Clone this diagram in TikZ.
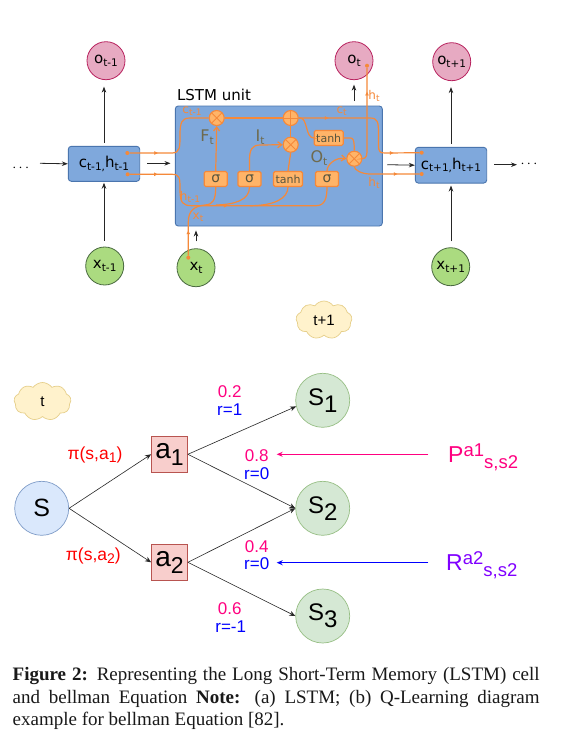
\documentclass[tikz,border=0pt]{standalone}
\usepackage{fontspec}
\usetikzlibrary{arrows.meta,shapes.geometric,shapes.symbols,decorations.markings,calc}
\setmainfont{Liberation Serif}
\newfontfamily\dvf{DejaVu Sans}
\newfontfamily\lsf{Liberation Sans}
\newcommand\lw[3]{\raisebox{#2}{\fontsize{#1}{#1}\selectfont #3}}
\newcommand\tsb[1]{\lw{10.5pt}{-2.5pt}{#1}}
\newcommand\ssb[1]{\lw{9pt}{-2pt}{#1}}
\definecolor{ora}{HTML}{F5893A}
\definecolor{orafill}{HTML}{FFB468}
\definecolor{boxblue}{HTML}{7FA8DC}
\definecolor{boxline}{HTML}{4A75AE}
\definecolor{lblgray}{HTML}{6E6A4E}
\definecolor{pinky}{HTML}{FF0080}
\definecolor{bluey}{HTML}{0000FF}
\definecolor{purp}{HTML}{8000FF}
\definecolor{opink}{HTML}{E7AAC2}
\definecolor{opinkl}{HTML}{B8235F}
\definecolor{xgreen}{HTML}{ABDB80}
\definecolor{xgreenl}{HTML}{4A6A40}
\definecolor{cloudf}{HTML}{FFF2CC}
\definecolor{cloudl}{HTML}{E6CF8A}
\definecolor{stf}{HTML}{D5E8D4}
\definecolor{stl}{HTML}{97BF85}
\definecolor{sf}{HTML}{DAE8FC}
\definecolor{sl}{HTML}{7F9CC8}
\definecolor{af}{HTML}{F8CECC}
\definecolor{al}{HTML}{B85450}
\tikzset{
  blk/.style={draw=black!85,line width=.8pt,-{Stealth[length=6pt,width=4.5pt]}},
  thinblk/.style={draw=black!85,line width=.6pt,-{Stealth[length=6pt,width=5pt]}},
  orl/.style={draw=ora,line width=1.2pt},
  orarr/.style={draw=ora,line width=1.2pt,-{Straight Barb[length=4pt,width=6pt]}},
  otip/.style={postaction={decorate,decoration={markings,mark=at position #1 with {\arrow[ora]{Latex[length=4pt,width=4pt]}}}}},
  odot/.style={circle,fill=ora,inner sep=0pt,minimum size=4pt},
  outn/.style={circle,line width=.8pt,minimum size=38pt,inner sep=0pt,font=\dvf\fontsize{15}{15}\selectfont},
  pinkn/.style={outn,draw=opinkl,fill=opink},
  greenn/.style={outn,draw=xgreenl,fill=xgreen},
  cellb/.style={rectangle,rounded corners=3pt,draw=boxline,fill=boxblue,line width=.9pt,font=\dvf\fontsize{15}{15}\selectfont,inner sep=0pt},
  opb/.style={rectangle,rounded corners=1.5pt,draw=ora,fill=orafill,line width=1.1pt,inner sep=0pt,minimum height=15pt,minimum width=23pt,text=lblgray!80!black,font=\dvf\fontsize{11}{11}\selectfont},
  sigb/.style={opb,font=\dvf\fontsize{14}{14}\selectfont},
  xop/.style={circle,draw=ora,fill=orafill,line width=1.1pt,minimum size=15pt,inner sep=0pt,
    path picture={\draw[ora,line width=.9pt]
      (path picture bounding box.south west)--(path picture bounding box.north east)
      (path picture bounding box.north west)--(path picture bounding box.south east);}},
  pop/.style={circle,draw=ora,fill=orafill,line width=1.1pt,minimum size=15pt,inner sep=0pt,
    path picture={\draw[ora,line width=.9pt]
      (path picture bounding box.south)--(path picture bounding box.north)
      (path picture bounding box.west)--(path picture bounding box.east);}},
  lblo/.style={text=ora,font=\dvf\fontsize{12}{12}\selectfont,inner sep=0pt},
  lblg/.style={text=lblgray,font=\dvf\fontsize{16}{16}\selectfont,inner sep=0pt},
  cloudn/.style={cloud,cloud puffs=9,cloud puff arc=110,aspect=1.45,draw=cloudl,fill=cloudf,line width=.7pt,inner sep=0pt,font=\lsf\fontsize{15}{15}\selectfont},
  stateg/.style={circle,draw=stl,fill=stf,line width=.7pt,minimum size=54pt,inner sep=0pt,font=\lsf\fontsize{24}{24}\selectfont},
  actb/.style={rectangle,draw=al,fill=af,line width=.8pt,minimum size=36pt,inner sep=0pt,font=\lsf\fontsize{28}{28}\selectfont},
  pil/.style={text=red,font=\lsf\fontsize{17.5}{17.5}\selectfont,inner sep=0pt},
  prb/.style={text=pinky,font=\lsf\fontsize{17}{17}\selectfont,inner sep=0pt},
  rwd/.style={text=bluey,font=\lsf\fontsize{17}{17}\selectfont,inner sep=0pt},
  pl/.style={font=\lsf\fontsize{23}{23}\selectfont,inner sep=0pt},
  dots/.style={inner sep=0pt,font=\dvf\fontsize{14}{14}\selectfont}
}
\begin{document}
\begin{tikzpicture}[x=1pt,y=-1pt]
\useasboundingbox[fill=white] (0,0) rectangle (577,737);
% ---------- top row
\node[cellb,minimum width=207pt,minimum height=120pt] (lstm) at (278.8,166) {};
\node[font=\dvf\fontsize{15}{15}\selectfont,inner sep=0pt] (ltitle) at (214,95) {LSTM unit};
\node[cellb,minimum width=71.4pt,minimum height=35pt] (prev) at (104,163.8) {c\tsb{t-1,}h\tsb{t-1}};
\node[cellb,minimum width=71.4pt,minimum height=35.7pt] (next) at (451,165.2) {c\tsb{t+1,}h\tsb{t+1}};
\node[pinkn] (oprev) at (106,60.7) {o\tsb{t-1}};
\node[pinkn] (ot) at (354,60.7) {o\tsb{t}};
\node[pinkn] (onext) at (451.7,61.7) {o\tsb{t+1}};
\node[greenn] (xprev) at (104.7,266) {x\tsb{t-1}};
\node[greenn] (xt) at (196,267.7) {x\tsb{t}};
\node[greenn] (xnext) at (450.7,266.7) {x\tsb{t+1}};
\node[dots] (dl) at (20.7,168) {$\cdots$};
\node[dots] (dr) at (529,164) {$\cdots$};
\coordinate (inl) at (40,163.3);
% operators
\node[xop] (fx) at (216.7,118) {};
\node[pop] (plus) at (290.7,118) {};
\node[xop] (ix) at (290.7,144.7) {};
\node[xop] (ox) at (354.3,158.7) {};
\node[sigb] (s1) at (215.7,179) {σ};
\node[sigb] (s2) at (249.5,179) {σ};
\node[opb,minimum width=29pt] (t1) at (288,179) {tanh};
\node[sigb] (s3) at (327,179) {σ};
\node[opb,minimum width=29pt] (t2) at (328.7,138) {tanh};
% dots
\node[odot] (dc1) at (127.3,153) {};
\node[odot] (dh1) at (127.7,174.3) {};
\node[odot] (dc2) at (421.7,152.7) {};
\node[odot] (dh2) at (421.7,174) {};
\node[odot] (dxt) at (188.3,257.7) {};
\node[odot] (dot) at (367,65.7) {};
% black arrows
\draw[blk] (inl) -- (prev.west);
\draw[blk] (prev.east) ++(7,-.5) coordinate (a1s) -- (170.5,163.3) coordinate (a1e);
\draw[blk] (lstm.east) ++(4.5,-1.3) coordinate (a2s) -- (next.west);
\draw[blk] (next.east) ++(7,-.5) coordinate (a3s) -- (517,164.7) coordinate (a3e);
\draw[blk,shorten <=3pt,shorten >=6.5pt] (prev.north) -- (oprev.south -| prev.north);
\draw[blk,shorten <=6pt,shorten >=1pt] (xprev.north -| prev.south) -- (prev.south);
\draw[blk,shorten <=3pt,shorten >=6pt] (next.north) -- (onext.south -| next.north);
\draw[blk,shorten <=6pt,shorten >=2pt] (xnext.north -| next.south) -- (next.south);
\draw[blk,shorten <=4.5pt,shorten >=4.5pt] (lstm.north -| ot.south) -- (ot.south);
\draw[blk,shorten <=7pt,shorten >=4pt] (xt.north) -- (lstm.south -| xt.north);
% cell state
\draw[orl,otip=.27] (dc1) -- (172,153) .. controls (180,153) and (180,147) .. (180,135) .. controls (180,122) and (182,118) .. (190,118) -- (fx.west);
\draw[orl] (fx.east) -- (plus.west);
\draw[orl,otip=.2,otip=.83] (plus.east) -- (370,118) .. controls (378,118) and (378.5,122) .. (378.5,135) -- (378.5,145) .. controls (378.5,152) and (380,153) .. (385,153) -- (dc2);
% hidden
\draw[orl,otip=.12,otip=.52] (dh1) -- (172,174.3) .. controls (180,174.3) and (180,178) .. (180,190) .. controls (180,203) and (183,205.7) .. (192,205.7) -- (316,205.7) .. controls (325,205.7) and (327,198) .. (s3.south);
% input
\draw[orl,otip=.3] (dxt) -- (188.3,222) .. controls (188.3,210) and (195,206) .. (205,205) .. controls (213,204.5) and (215.7,200) .. (s1.south);
\draw[orl] (s2.south) .. controls (249.5,200) and (235,204.5) .. (216,205);
\draw[orl] (t1.south) .. controls (288,198) and (275,205.7) .. (250,205.7);
\draw[orarr] (s1.north) -- (fx.south);
\draw[orarr] (s2.north) -- (249.5,160) .. controls (249.5,150) and (252,145) .. (260,145) -- (ix.west);
\draw[orl] (t1.north) -- (ix.south);
\draw[orl] (ix.north) -- (plus.south);
\draw[orarr] (s3.north) .. controls (327,165) and (335,157) .. (ox.west);
\draw[orl] (plus.east) -- (300,118) .. controls (308,118) and (305,138) .. (314,138) -- (t2.west);
\draw[orl] (t2.east) -- (350,138) .. controls (353,138) and (354.3,139) .. (ox.north);
\draw[orl,otip=.75] (ox.east) -- (362,158.7) .. controls (367,158.7) and (367,155) .. (367,148) -- (dot);
\draw[orl,otip=.68] (ox.south) .. controls (354.3,170) and (362,174) .. (370,174) -- (dh2);
% labels
\node[lblo] (lc1) at (192,111) {c\ssb{t-1}};
\node[lblo] (lc2) at (341.7,111) {c\ssb{t}};
\node[lblo] (lh1) at (374,96) {h\ssb{t}};
\node[lblo] (lh2) at (374,182.5) {h\ssb{t}};
\node[lblo] (lh3) at (190,197) {h\ssb{t-1}};
\node[lblo] (lx) at (198,217) {x\ssb{t}};
\node[lblg] (lf) at (207,137) {F\tsb{t}};
\node[lblg] (li) at (260,137) {I\tsb{t}};
\node[lblg] (lo) at (319,158) {O\tsb{t}};
\node[cloudn,minimum width=56pt,minimum height=38pt] (c2) at (324,320) {t+1};
% ---------- bottom
\node[cloudn,minimum width=57pt,minimum height=38pt] (c1) at (42.5,401.5) {t};
\node[circle,draw=sl,fill=sf,line width=.7pt,minimum size=54pt,inner sep=0pt,font=\lsf\fontsize{25}{25}\selectfont] (S) at (41.7,508.3) {S};
\node[actb] (a1) at (169.5,454.3) {\raisebox{-3pt}{a\lw{23pt}{-7pt}{1}}};
\node[actb] (a2) at (169.5,562.3) {\raisebox{-3pt}{a\lw{23pt}{-7pt}{2}}};
\node[stateg] (S1) at (322.7,400.3) {S\lw{24pt}{-7pt}{1}};
\node[stateg] (S2) at (322.7,508.3) {S\lw{24pt}{-7pt}{2}};
\node[stateg] (S3) at (322.7,616) {S\lw{24pt}{-7pt}{3}};
\draw[thinblk] (S.east) -- (a1.west);
\draw[thinblk] (S.east) -- (a2.west);
\draw[thinblk] (a1.east) -- (S1.193);
\draw[thinblk] (a1.east) -- (S2.west);
\draw[thinblk] (a2.east) -- (S2.west);
\draw[thinblk] (a2.east) -- (S3.west);
\node[pil] (p1) at (95,455) {π(s,a\lw{14pt}{-2.5pt}{1})};
\node[pil] (p2) at (93.3,556) {π(s,a\lw{14pt}{-2.5pt}{2})};
\node[prb] (v1) at (229.7,392) {0.2};
\node[rwd] (r1) at (229.7,410) {r=1};
\node[prb] (v2) at (256.7,455.3) {0.8};
\node[rwd] (r2) at (256.7,473.3) {r=0};
\node[prb] (v3) at (256.7,546.7) {0.4};
\node[rwd] (r3) at (256.7,564) {r=0};
\node[prb] (v4) at (229.7,608.7) {0.6};
\node[rwd] (r4) at (230.7,626.7) {r=-1};
\node[pl,text=pinky,anchor=west] (PL) at (448,457) {P\lw{18.5pt}{6pt}{a1}\lw{18.5pt}{-6pt}{s,s2}};
\node[pl,text=purp,anchor=west] (RL) at (446,565) {R\lw{18.5pt}{6pt}{a2}\lw{18.5pt}{-6pt}{s,s2}};
\coordinate (pe) at (276.7,454.3);
\coordinate (re) at (276.7,562.7);
\draw[line width=.9pt,draw=pinky,-{Stealth[length=6pt,width=5pt]}] (428.3,454.3) coordinate (ps) -- (pe);
\draw[line width=.9pt,draw=bluey,-{Stealth[length=6pt,width=5pt]}] (428.3,562.7) coordinate (rs) -- (re);
% ---------- caption
\node[anchor=north west,inner sep=0pt,align=left,text=black!90,font=\fontsize{19}{22.5}\selectfont] (cap) at (12.5,667.5) {%
\makebox[527pt][s]{\textbf{Figure 2:} Representing the Long Short-Term Memory (LSTM) cell}\\
\makebox[527pt][s]{and bellman Equation \textbf{Note:} (a) LSTM; (b) Q-Learning diagram}\\
example for bellman Equation [82].};
\end{tikzpicture}
\end{document}
